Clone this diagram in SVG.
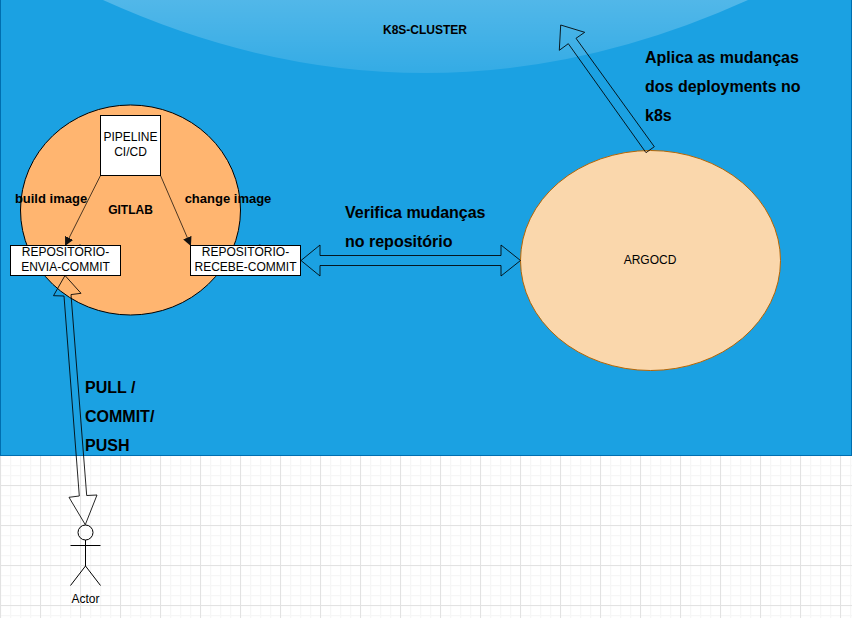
<svg xmlns="http://www.w3.org/2000/svg" width="852" height="618" viewBox="0 0 852 618">
<style>
text{font-family:"Liberation Sans",Arial,sans-serif;font-size:12px;fill:#000;text-anchor:middle}
.b{font-weight:bold}
.i{font-size:13px;font-weight:bold}
.l{font-size:16px;font-weight:bold;text-anchor:start}
.sh{fill:none;stroke:#000;stroke-width:1;stroke-opacity:.85}
.box{fill:#fff;stroke:#000;stroke-width:1}
.act{fill:none;stroke:#000;stroke-width:1}
.c{fill:none;stroke:#000;stroke-opacity:.7;stroke-width:1;marker-end:url(#ah)}
</style>
<defs>
<pattern id="gm" width="10" height="10" patternUnits="userSpaceOnUse" y="5">
<path d="M.5 0V10M0 .5H10" fill="none" stroke="#f6f6f6" stroke-width="1.5"/>
</pattern>
<pattern id="gM" width="40" height="40" patternUnits="userSpaceOnUse" y="5">
<path d="M.5 0V40M0 .5H40" fill="none" stroke="#e2e2e2" stroke-width="1"/>
</pattern>
<linearGradient id="glass" x1="0" y1="0" x2="0" y2="1">
<stop offset="0" stop-color="#fff" stop-opacity=".24"/>
<stop offset="1" stop-color="#fff" stop-opacity=".11"/>
</linearGradient>
<marker id="ah" markerWidth="9" markerHeight="10" refX="8" refY="5" orient="auto" markerUnits="userSpaceOnUse">
<path d="M0 0.5L9 5L0 9.5Z" fill="#111"/>
</marker>
</defs>
<rect width="852" height="618" fill="#fff"/>
<rect width="852" height="618" fill="url(#gm)"/>
<rect width="852" height="618" fill="url(#gM)"/>
<g id="k8s-cluster">
<rect x="0.5" y="-1" width="851" height="456.5" fill="#1ba1e2" stroke="#006eaf"/>
<path d="M103 0Q425 146 748 0Z" fill="url(#glass)"/>
<text x="425" y="34" class="b">K8S-CLUSTER</text>
</g>
<g id="gitlab">
<ellipse cx="130.5" cy="210" rx="110" ry="105" fill="#ffb570" stroke="#000"/>
<text x="130.5" y="214" class="b">GITLAB</text>
</g>
<g id="argocd">
<ellipse cx="650.5" cy="260.5" rx="130" ry="110" fill="#fad7ac" stroke="#b46504"/>
<text x="650" y="264">ARGOCD</text>
</g>
<g id="connectors">
<path class="c" d="M100.5 175.5L65.5 245"/>
<path class="c" d="M160.5 175.5L190.5 245"/>
<path class="sh" d="M301 260.5L320 245V255.5H501V245L520.5 260.5L501 276V265.5H320V276Z"/>
<path class="sh" d="M65 275.5L81 293.3L71 294.6L86.7 495.5L97 495L85.3 524.7L69 497.3L79.3 496L64 296L53.5 295.7Z"/>
<path class="sh" d="M560.7 25L584.7 32.3L576 38.3L654.3 146.7L646 152.7L568.3 43.7L559.3 50.3Z"/>
</g>
<g id="pipeline">
<rect class="box" x="100.5" y="115.5" width="60" height="60"/>
<text x="130.5" y="141">PIPELINE</text>
<text x="130.5" y="156">CI/CD</text>
</g>
<g id="repo-envia">
<rect class="box" x="10.5" y="245.5" width="110" height="30"/>
<text x="65.5" y="256">REPOSITÓRIO-</text>
<text x="65.5" y="271">ENVIA-COMMIT</text>
</g>
<g id="repo-recebe">
<rect class="box" x="190.5" y="245.5" width="110" height="30"/>
<text x="245.5" y="256">REPOSITÓRIO-</text>
<text x="245.5" y="271">RECEBE-COMMIT</text>
</g>
<g id="actor">
<circle class="act" cx="85.5" cy="532.5" r="7.5"/>
<path class="act" d="M85.5 540V566M70.5 545.5H100.5M70.5 585.5L85.5 566L100.5 585.5"/>
<text x="85.5" y="603">Actor</text>
</g>
<g id="labels">
<text x="51" y="203" class="i">build image</text>
<text x="228" y="203" class="i">change image</text>
<text x="345" y="218" class="l">Verifica mudanças</text>
<text x="345" y="247" class="l">no repositório</text>
<text x="645" y="63" class="l">Aplica as mudanças</text>
<text x="645" y="92" class="l">dos deployments no</text>
<text x="645" y="121" class="l">k8s</text>
<text x="85" y="393" class="l">PULL /</text>
<text x="85" y="422" class="l">COMMIT/</text>
<text x="85" y="451" class="l">PUSH</text>
</g>
</svg>
